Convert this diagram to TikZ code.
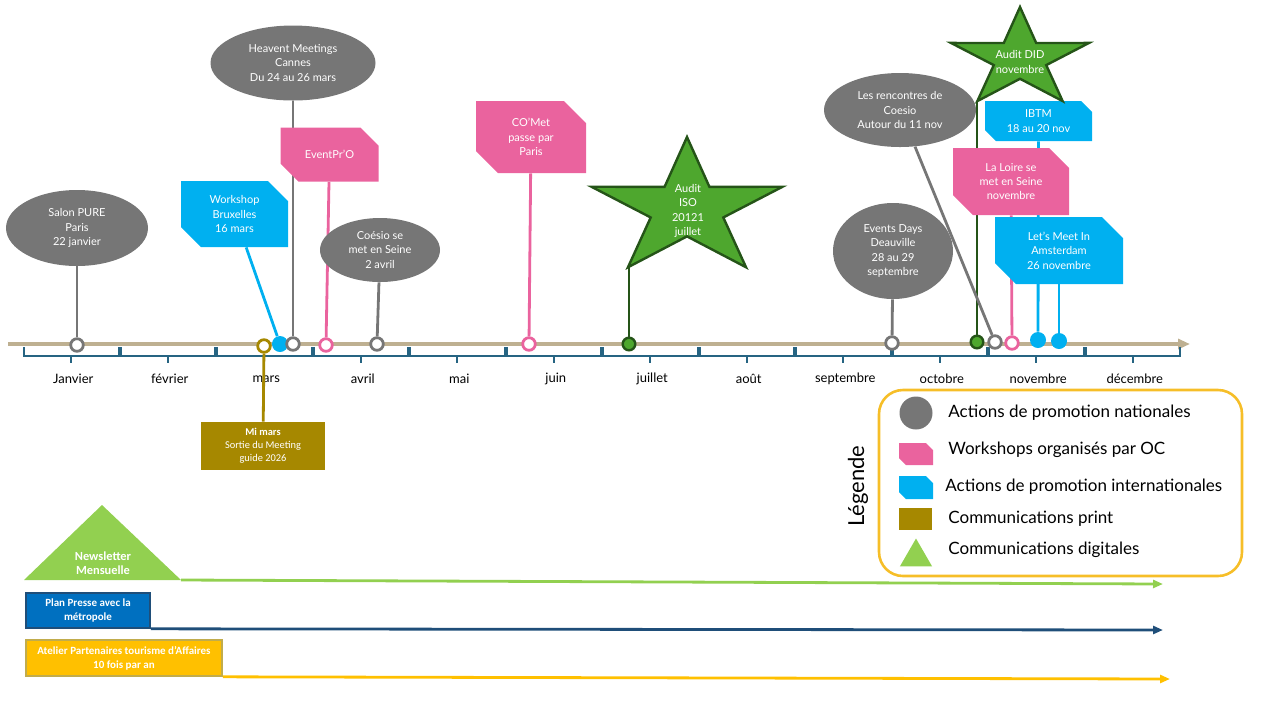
\documentclass[tikz,border=0pt]{standalone}
\usepackage{fontspec}
\setmainfont{Lato}
\newfontfamily\calib{Carlito}
\usetikzlibrary{shapes.geometric,arrows.meta,backgrounds}

\definecolor{natgray}{RGB}{118,118,118}
\definecolor{ocpink}{RGB}{234,99,158}
\definecolor{intblue}{RGB}{0,176,240}
\definecolor{printgold}{RGB}{166,136,0}
\definecolor{digigreen}{RGB}{146,208,80}
\definecolor{auditgreen}{RGB}{78,167,46}
\definecolor{auditdark}{RGB}{37,84,24}
\definecolor{lineback}{RGB}{190,176,145}
\definecolor{monthblue}{RGB}{38,100,130}
\definecolor{legendgold}{RGB}{246,190,40}
\definecolor{pressblue}{RGB}{0,112,192}
\definecolor{pressdark}{RGB}{31,78,121}
\definecolor{ateliergold}{RGB}{255,192,0}

\tikzset{
  evtext/.style={font=\fontsize{5.5}{7.2}\selectfont, text=white, align=center, inner sep=0pt},
  natevent/.style={ellipse, fill=natgray, evtext},
  snipcut/.store in=\snipcut, snipcut=10pt,
  snip/.style={rectangle, evtext, path picture={
    \fill[#1] (path picture bounding box.north west) -- ([xshift=-\snipcut]path picture bounding box.north east)
      -- ([yshift=-\snipcut]path picture bounding box.north east) -- (path picture bounding box.south east)
      -- ([xshift=\snipcut]path picture bounding box.south west) -- ([yshift=\snipcut]path picture bounding box.south west) -- cycle;}},
  wsoc/.style={snip=ocpink},
  intl/.style={snip=intblue},
  ring/.style={circle, draw=#1, fill=white, line width=1.4pt, minimum size=6.3pt, inner sep=0pt},
  fulldot/.style={circle, fill=#1, minimum size=8pt, inner sep=0pt},
  greendot/.style={circle, fill=auditgreen, draw=auditdark, line width=1.2pt, minimum size=6.3pt, inner sep=0pt},
  stemline/.style={draw=#1, line width=1.4pt},
  auditstar/.style={fill=auditgreen, draw=auditdark, line width=1.2pt, line join=miter},
  monthlab/.style={font=\fontsize{6.5}{8}\selectfont},
  legtext/.style={anchor=west, inner sep=0pt, font=\fontsize{8.5}{10}\selectfont},
  barbox/.style={font=\calib\bfseries\fontsize{5.5}{7}\selectfont, text=white, align=center, inner sep=0pt},
  longline/.style={line width=1.4pt, -{Triangle[length=5pt,width=4pt]}}
}

\begin{document}
\begin{tikzpicture}[x=0.5pt, y=-0.5pt]
\useasboundingbox (0,0) rectangle (1280,720);

\draw[line width=2pt, lineback, -{Triangle[length=6pt,width=5pt]}] (8,344) -- (1190,344);
\foreach \m [count=\i from 0] in {Janvier,février,mars,avril,mai,juin,juillet,août,septembre,octobre,novembre,décembre}{
  \draw[monthblue, line width=1pt] ({24+96.5*\i},347) -- ({24+96.5*\i},356) -- ({22+96.5*(\i+1)},356) -- ({22+96.5*(\i+1)},347)
    ({23+96.5*(\i+0.5)},356) -- ({23+96.5*(\i+0.5)},363);
  \node[monthlab] (mo\i) at ({25+96.5*(\i+0.5)},379) {\m};
}

\node[natevent, minimum width=71pt, minimum height=38pt] (pure) at (77,228) {Salon PURE\\Paris\\22 janvier};
\node[natevent, minimum width=82.5pt, minimum height=37.5pt] (heavent) at (293,63) {Heavent Meetings\\Cannes\\Du 24 au 26 mars};
\node[natevent, minimum width=60pt, minimum height=32pt] (coesio) at (380,250) {Coésio se\\met en Seine\\2 avril};
\node[natevent, minimum width=60pt, minimum height=48pt] (deauville) at (893,251) {Events Days\\Deauville\\28 au 29\\septembre};
\node[natevent, minimum width=76pt, minimum height=37pt] (rencontres) at (900,110) {Les rencontres de\\Coesio\\Autour du 11 nov};

\node[intl, minimum width=53.5pt, minimum height=33pt] (bruxelles) at (234.5,214) {Workshop\\Bruxelles\\16 mars};
\node[wsoc, snipcut=9pt, minimum width=49pt, minimum height=27pt] (eventpro) at (329.5,154.5) {EventPr’O};
\node[wsoc, snipcut=11pt, minimum width=55pt, minimum height=36pt] (comet) at (531,137) {CO’Met\\passe par\\Paris};
\node[intl, snipcut=5.5pt, minimum width=53.5pt, minimum height=20pt] (ibtm) at (1038.5,121) {IBTM\\18 au 20 nov};
\node[wsoc, minimum width=58pt, minimum height=33.5pt] (loire) at (1011,181.5) {La Loire se\\met en Seine\\novembre};
\node[intl, snipcut=10.5pt, minimum width=64pt, minimum height=33.5pt] (amsterdam) at (1059,250.5) {Let’s Meet In\\Amsterdam\\26 novembre};

\node[ring=natgray] (dpure) at (77,345) {};
\node[ring=printgold] (dmimars) at (264,346) {};
\node[fulldot=intblue] (dbrux) at (280,344) {};
\node[ring=natgray] (dheavent) at (293,344) {};
\node[ring=ocpink] (deventpro) at (326,345) {};
\node[ring=natgray] (dcoesio) at (377,344) {};
\node[ring=ocpink] (dcomet) at (529,344) {};
\node[greendot] (diso) at (629,344) {};
\node[ring=natgray] (ddeauville) at (892,343) {};
\node[greendot] (ddid) at (977,342) {};
\node[ring=natgray] (drencontres) at (995,342) {};
\node[ring=ocpink] (dloire) at (1012,343) {};
\node[fulldot=intblue] (dibtm) at (1038,340) {};
\node[fulldot=intblue] (damsterdam) at (1059,341) {};

\draw[auditstar, shift={(687,209)}, xscale=1.395] (-90:72)
  \foreach \k [evaluate=\k as \r using {72*(1-0.62*mod(\k,2))}] in {1,...,9}{ -- ({-90+36*\k}:\r) } -- cycle;
\node[evtext] (iso) at (688,211) {Audit\\ISO\\20121\\juillet};
\coordinate (isotip) at (629,267);
\draw[auditstar, shift={(1020,59)}, xscale=1.395] (-90:52)
  \foreach \k [evaluate=\k as \r using {52*(1-0.62*mod(\k,2))}] in {1,...,9}{ -- ({-90+36*\k}:\r) } -- cycle;
\node[evtext] (did) at (1020,62) {Audit DID\\novembre};
\coordinate (didtip) at (977,101);

\begin{scope}[on background layer]
\draw[stemline=natgray] (pure) -- (dpure);
\draw[stemline=intblue] (bruxelles) -- (dbrux);
\draw[stemline=natgray] (heavent) -- (dheavent);
\draw[stemline=ocpink] (eventpro) -- (deventpro);
\draw[stemline=natgray] (coesio) -- (dcoesio);
\draw[stemline=ocpink] (comet) -- (dcomet);
\draw[stemline=auditdark] (isotip) -- (diso);
\draw[stemline=natgray] (deauville) -- (ddeauville);
\draw[stemline=auditdark] (didtip) -- (ddid);
\draw[stemline=natgray] (rencontres) -- (drencontres);
\draw[stemline=ocpink] (loire) -- (dloire);
\draw[stemline=intblue] (ibtm) -- (dibtm);
\draw[stemline=intblue] (amsterdam) -- (damsterdam);
\end{scope}

\node[fill=printgold, minimum width=62pt, minimum height=24pt, barbox, font=\calib\fontsize{5.2}{6.5}\selectfont] (mimars) at (263,446) {\textbf{Mi mars}\\Sortie du Meeting\\guide 2026};
\draw[stemline=printgold] (dmimars) -- (mimars);

\node[draw=legendgold, line width=1.3pt, rounded corners=12pt, minimum width=181.5pt, minimum height=93pt] (legend) at (1060.5,483) {};
\node[rotate=90, font=\fontsize{11}{13}\selectfont] (legtitle) at (858,486) {Légende};
\node[circle, fill=natgray, minimum size=16.5pt, inner sep=0pt] (lg1) at (916,413) {};
\node[legtext] (lt1) at (948,413) {Actions de promotion nationales};
\node[wsoc, snipcut=3.5pt, minimum width=17pt, minimum height=11pt] (lg2) at (916,454) {};
\node[legtext] (lt2) at (948,450) {Workshops organisés par OC};
\node[intl, snipcut=3.5pt, minimum width=17pt, minimum height=11.5pt] (lg3) at (916,487.5) {};
\node[legtext] (lt3) at (945,487) {Actions de promotion internationales};
\node[fill=printgold, minimum width=16.5pt, minimum height=11pt, inner sep=0pt] (lg4) at (915.5,519) {};
\node[legtext] (lt4) at (948,519) {Communications print};
\node[regular polygon, regular polygon sides=3, fill=digigreen, minimum size=18.5pt, inner sep=0pt] (lg5) at (916,557) {};
\node[legtext] (lt5) at (948,550) {Communications digitales};

\coordinate (nlleft) at (24,580);
\coordinate (nltop) at (102,505);
\coordinate (nlright) at (181,580);
\coordinate (nlend) at (1163,584);
\fill[digigreen] (nlleft) -- (nltop) -- (nlright) -- cycle;
\node[barbox, font=\calib\bfseries\fontsize{6.2}{7.2}\selectfont] (newsletter) at (103,563) {Newsletter\\Mensuelle};
\draw[longline, digigreen] (nlright) -- (nlend);

\node[barbox, fill=pressblue, draw=pressdark, line width=0.8pt, minimum width=62pt, minimum height=17.5pt] (presse) at (88,610.5) {Plan Presse avec la\\métropole};
\coordinate (presseend) at (1163,630);
\draw[longline, pressdark] (presse.south east) -- (presseend);

\node[barbox, fill=ateliergold, draw=printgold!70, line width=0.8pt, minimum width=98pt, minimum height=18pt] (atelier) at (124,658) {Atelier Partenaires tourisme d’Affaires\\10 fois par an};
\coordinate (atelierend) at (1170,679);
\draw[longline, ateliergold] (atelier.south east) -- (atelierend);
\end{tikzpicture}
\end{document}
